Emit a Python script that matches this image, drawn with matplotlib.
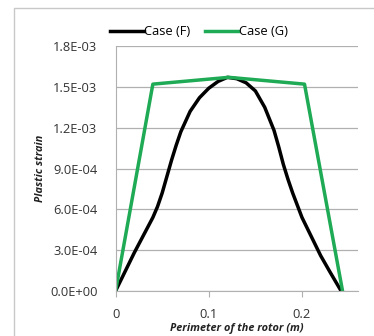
import matplotlib
matplotlib.use("Agg")
import matplotlib.pyplot as plt
from matplotlib.patches import Rectangle
from matplotlib.ticker import FuncFormatter

# data
x_f = [0, 0.01, 0.02, 0.03, 0.04, 0.045, 0.05, 0.055, 0.06, 0.065, 0.07, 0.08, 0.09, 0.10,
       0.11, 0.12, 0.13, 0.14, 0.15, 0.16, 0.17, 0.175, 0.18, 0.185, 0.19, 0.20, 0.21,
       0.22, 0.23, 0.242]
y_f = [0, 0.14e-3, 0.28e-3, 0.41e-3, 0.54e-3, 0.62e-3, 0.72e-3, 0.84e-3, 0.96e-3,
       1.07e-3, 1.17e-3, 1.32e-3, 1.42e-3, 1.49e-3, 1.54e-3, 1.57e-3, 1.56e-3, 1.53e-3,
       1.47e-3, 1.35e-3, 1.18e-3, 1.06e-3, 0.93e-3, 0.82e-3, 0.72e-3, 0.54e-3, 0.40e-3,
       0.26e-3, 0.14e-3, 0]
x_g = [0, 0.040, 0.1215, 0.2027, 0.2435]
y_g = [0, 1.52e-3, 1.57e-3, 1.52e-3, 0]
yticks = [0, 0.3e-3, 0.6e-3, 0.9e-3, 1.2e-3, 1.5e-3, 1.8e-3]
xticks = [0, 0.1, 0.2]

plt.rcParams['font.family'] = ['Open Sans', 'DejaVu Sans']

fig = plt.figure(figsize=(3.74, 3.36), dpi=100)
fig.patches.append(Rectangle((14/374, -0.1), 1.2, 1.1 - 8/336, transform=fig.transFigure,
                             fill=False, edgecolor='#c8c8c8', linewidth=1))
ax = fig.add_axes([0.309, 0.134, 0.648, 0.729])

ax.plot(x_f, y_f, color='black', lw=2.5, label='Case (F)', solid_joinstyle='round')
ax.plot(x_g, y_g, color='#1faa55', lw=2.5, label='Case (G)')

ax.set_xlim(0, 0.26)
ax.set_ylim(0, 1.8e-3)
ax.set_yticks(yticks)
ax.set_xticks(xticks)
ax.xaxis.set_major_formatter(FuncFormatter(lambda v, p: '0' if v == 0 else f'{v:.1f}'))
ax.yaxis.set_major_formatter(FuncFormatter(lambda v, p: f'{v:.1E}'))
ax.grid(axis='y', color='#b0b0b0', lw=0.9)
ax.set_axisbelow(True)
for s in ['top', 'right']:
    ax.spines[s].set_visible(False)
ax.spines['left'].set_color('#b0b0b0')
ax.spines['bottom'].set_color('#b0b0b0')
ax.tick_params(axis='y', length=0, pad=13, labelsize=9.3, colors='#333333')
ax.tick_params(axis='x', length=4, direction='out', color='#b0b0b0', pad=8, labelsize=9.3,
               labelcolor='#333333')
ax.set_xlabel('Perimeter of the rotor (m)', fontsize=7.8, fontstyle='italic', fontweight='bold',
              labelpad=1.5, color='#222222')
ax.set_ylabel('Plastic strain', fontsize=7.8, fontstyle='italic', fontweight='bold',
              labelpad=3, color='#222222')

ax.legend(loc='center', bbox_to_anchor=(0.344, 1.058), ncol=2, frameon=False, fontsize=9.3,
          handlelength=2.6, columnspacing=1.1, handletextpad=0.05, borderaxespad=0,
          borderpad=0)

fig.savefig('out.png', dpi=100)
